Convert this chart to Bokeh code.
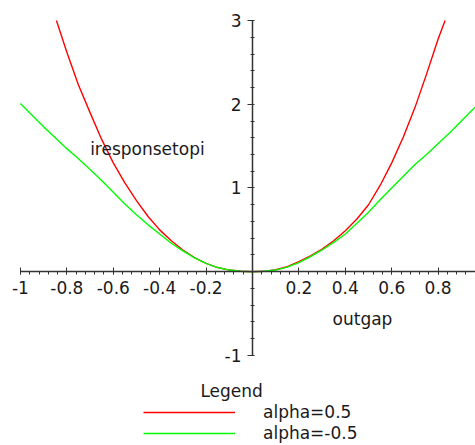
from bokeh.plotting import figure
from bokeh.models import FixedTicker, Label, Legend, LegendItem, Range1d
from bokeh.embed import file_html
from bokeh.resources import INLINE
import numpy as np

# ---- data ----
x_red = [-0.845, -0.80, -0.75, -0.70, -0.65, -0.60, -0.55, -0.50, -0.45,
         -0.40, -0.35, -0.30, -0.25, -0.20, -0.15, -0.10, -0.05, 0.00, 0.05,
         0.10, 0.15, 0.20, 0.25, 0.30, 0.35, 0.40, 0.45, 0.50, 0.55,
         0.60, 0.65, 0.70, 0.75, 0.80, 0.83]
y_red = [3.00, 2.62, 2.23, 1.90, 1.58, 1.30, 1.06, 0.85, 0.66,
         0.50, 0.37, 0.26, 0.17, 0.10, 0.05, 0.02, 0.005, 0.0, 0.005,
         0.025, 0.06, 0.12, 0.19, 0.27, 0.37, 0.49, 0.63, 0.80, 1.03,
         1.30, 1.61, 1.96, 2.36, 2.78, 3.00]

x_green = [-1.00, -0.95, -0.90, -0.85, -0.80, -0.75, -0.70, -0.65, -0.60, -0.55,
           -0.50, -0.45, -0.40, -0.35, -0.30, -0.25, -0.20, -0.15, -0.10, -0.05,
           0.00, 0.05, 0.10, 0.15, 0.20, 0.25, 0.30, 0.35, 0.40, 0.45,
           0.50, 0.55, 0.60, 0.65, 0.70, 0.75, 0.80, 0.85, 0.90, 0.95, 1.00]
y_green = [2.01, 1.87, 1.73, 1.60, 1.47, 1.35, 1.22, 1.09, 0.95, 0.81,
           0.68, 0.56, 0.45, 0.34, 0.25, 0.165, 0.10, 0.05, 0.02, 0.005,
           0.0, 0.005, 0.02, 0.055, 0.11, 0.18, 0.26, 0.35, 0.45, 0.58,
           0.71, 0.86, 1.00, 1.14, 1.28, 1.40, 1.53, 1.66, 1.80, 1.94, 2.07]

series_labels = ["alpha=0.5", "alpha=-0.5"]
series_colors = ["#ff0000", "#00ff00"]
x_ticks = [-1, -0.8, -0.6, -0.4, -0.2, 0.2, 0.4, 0.6, 0.8, 1]
x_tick_labels = ["-1", "-0.8", "-0.6", "-0.4", "-0.2", "0.2", "0.4", "0.6", "0.8", "1"]
y_ticks = [-1, 1, 2, 3]
y_tick_labels = ["-1", "1", "2", "3"]
x_title = "outgap"
y_title = "iresponsetopi"
legend_title = "Legend"

FONT = "DejaVu Sans"
TXT = "#1a1a1a"

p = figure(width=475, height=445, output_backend="svg", toolbar_location=None,
           x_range=Range1d(-1.086, 0.961), y_range=Range1d(-2.075, 3.239),
           min_border_left=0, min_border_top=0, min_border_right=0,
           min_border_bottom=0)
p.outline_line_color = None
p.grid.visible = False
p.background_fill_color = "white"

r_red = p.line(x_red, y_red, line_color=series_colors[0], line_width=1.4, line_alpha=1.0)
r_green = p.line(x_green, y_green, line_color=series_colors[1], line_width=1.4, line_alpha=1.0)

# axes through the origin
xa = p.xaxis[0]
xa.fixed_location = 0
xa.bounds = (-1, 1)
xa.ticker = FixedTicker(ticks=x_ticks,
                        minor_ticks=[round(v, 2) for v in np.arange(-1, 1.001, 0.04)])
xa.major_label_overrides = {t: l for t, l in zip(x_ticks, x_tick_labels)}
xa.major_tick_in = 4
xa.major_tick_out = 3
xa.minor_tick_in = 0
xa.minor_tick_out = 3
xa.major_label_standoff = 6

ya = p.yaxis[0]
ya.fixed_location = 0
ya.bounds = (-1, 3)
ya.ticker = FixedTicker(ticks=y_ticks,
                        minor_ticks=[round(v, 2) for v in np.arange(-1, 3.001, 0.2)])
ya.major_label_overrides = {t: l for t, l in zip(y_ticks, y_tick_labels)}
ya.major_tick_in = 0
ya.major_tick_out = 5
ya.minor_tick_in = 2
ya.minor_tick_out = 2
ya.major_label_standoff = 6

for ax in (xa, ya):
    ax.axis_line_color = "#333333"
    ax.axis_line_width = 1.5
    ax.major_tick_line_color = "#333333"
    ax.minor_tick_line_color = "#333333"
    ax.major_label_text_font = FONT
    ax.major_label_text_font_size = "17px"
    ax.major_label_text_color = TXT

# axis titles as free labels, as in the reference
p.add_layout(Label(x=-0.453, y=1.47, text=y_title, text_align="center",
                   text_baseline="middle", text_font=FONT, text_font_size="17px",
                   text_color=TXT))
p.add_layout(Label(x=0.474, y=-0.56, text=x_title, text_align="center",
                   text_baseline="middle", text_font=FONT, text_font_size="17px",
                   text_color=TXT))
p.add_layout(Label(x=-0.09, y=-1.42, text=legend_title, text_align="center",
                   text_baseline="middle", text_font=FONT, text_font_size="17px",
                   text_color=TXT))

legend = Legend(items=[LegendItem(label=series_labels[0], renderers=[r_red]),
                       LegendItem(label=series_labels[1], renderers=[r_green])],
                location=(143, 2), padding=0, margin=0, spacing=1,
                glyph_width=92, glyph_height=14, label_height=14,
                label_standoff=28, label_text_font=FONT,
                label_text_font_size="17px", label_text_color=TXT,
                background_fill_alpha=0, border_line_alpha=0)
p.add_layout(legend)

open("out.html", "w").write(file_html(p, INLINE))
